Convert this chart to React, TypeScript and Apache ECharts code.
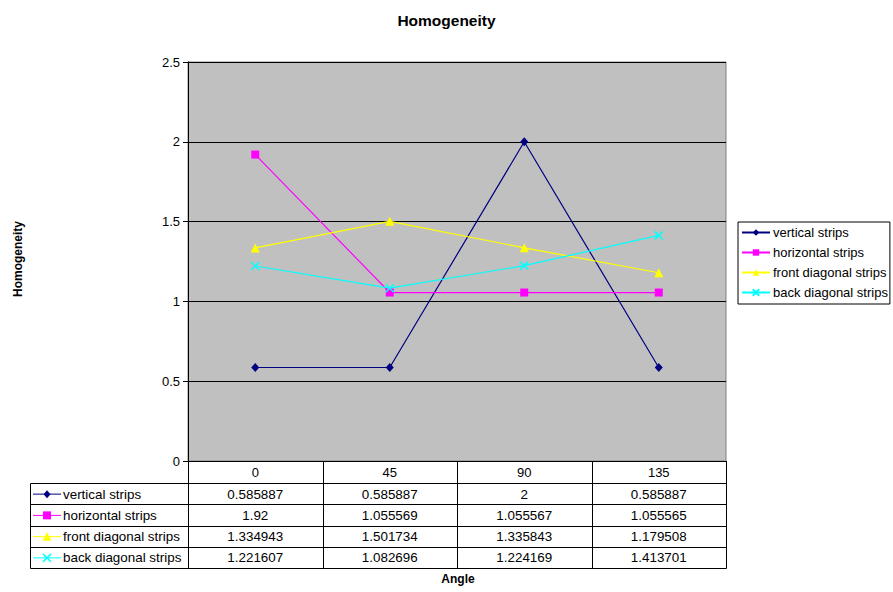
import React, { useEffect, useRef } from "react";
import * as echarts from "echarts";

const categories = ["0", "45", "90", "135"];
const seriesNames = ["vertical strips", "horizontal strips", "front diagonal strips", "back diagonal strips"];
const verticalStrips = [0.585887, 0.585887, 2, 0.585887];
const horizontalStrips = [1.92, 1.055569, 1.055567, 1.055565];
const frontDiagonalStrips = [1.334943, 1.501734, 1.335843, 1.179508];
const backDiagonalStrips = [1.221607, 1.082696, 1.224169, 1.413701];
const seriesColors = ["#000080", "#FF00FF", "#FFFF00", "#00FFFF"];
const seriesSymbols = ["diamond", "rect", "triangle", "path://M0,0L10,10M10,0L0,10"];
const symbolSizes: any[] = [[8, 9], 8, 9, 8];

const FONT = "'Liberation Sans', Arial, sans-serif";

export default function App() {
  const ref = useRef<HTMLDivElement>(null);
  useEffect(() => {
    if (!ref.current) return;
    const chart = echarts.init(ref.current, null, { renderer: "svg" });
    const allData = [verticalStrips, horizontalStrips, frontDiagonalStrips, backDiagonalStrips];

    const gridLeft = 188, gridRight = 726, gridTop = 62, gridBottom = 461;
    const headerBottom = 483;
    const tableLeft = 30, tableBottom = 568;
    const rowH = (tableBottom - headerBottom) / seriesNames.length;
    const colW = (gridRight - gridLeft) / categories.length;

    const graphics: any[] = [];
    const ls = { stroke: "#000", lineWidth: 1 };
    for (let c = 0; c <= categories.length; c++) {
      const x = Math.round(gridLeft + colW * c) + 0.5;
      graphics.push({ type: "line", shape: { x1: x, y1: gridBottom, x2: x, y2: tableBottom }, style: ls, silent: true });
    }
    graphics.push({ type: "rect", shape: { x: tableLeft + 0.5, y: headerBottom + 0.5, width: gridRight - tableLeft, height: tableBottom - headerBottom }, style: { fill: "none", stroke: "#000", lineWidth: 1 }, silent: true });
    for (let r = 1; r < seriesNames.length; r++) {
      const y = Math.round(headerBottom + rowH * r) + 0.5;
      graphics.push({ type: "line", shape: { x1: tableLeft, y1: y, x2: gridRight, y2: y }, style: ls, silent: true });
    }
    seriesNames.forEach((name, r) => {
      const cy = headerBottom + rowH * (r + 0.5) + 0.5;
      const color = seriesColors[r];
      const kx1 = tableLeft + 3, kx2 = tableLeft + 31, kcx = (kx1 + kx2) / 2;
      graphics.push({ type: "line", shape: { x1: kx1, y1: cy, x2: kx2, y2: cy }, style: { stroke: color, lineWidth: 1 }, silent: true });
      if (r === 0) {
        graphics.push({ type: "polygon", shape: { points: [[kcx, cy - 4], [kcx + 3.5, cy], [kcx, cy + 4], [kcx - 3.5, cy]] }, style: { fill: color }, silent: true });
      } else if (r === 1) {
        graphics.push({ type: "rect", shape: { x: kcx - 4, y: cy - 4, width: 8, height: 8 }, style: { fill: color }, silent: true });
      } else if (r === 2) {
        graphics.push({ type: "polygon", shape: { points: [[kcx, cy - 4.5], [kcx + 4.5, cy + 4], [kcx - 4.5, cy + 4]] }, style: { fill: color }, silent: true });
      } else {
        graphics.push({ type: "line", shape: { x1: kcx - 4, y1: cy - 4, x2: kcx + 4, y2: cy + 4 }, style: { stroke: color, lineWidth: 1.5 }, silent: true });
        graphics.push({ type: "line", shape: { x1: kcx + 4, y1: cy - 4, x2: kcx - 4, y2: cy + 4 }, style: { stroke: color, lineWidth: 1.5 }, silent: true });
      }
      graphics.push({ type: "text", x: kx2 + 2, y: cy, style: { text: name, fontFamily: FONT, fontSize: 13.4, fill: "#000", textAlign: "left", textVerticalAlign: "middle" }, silent: true });
      allData[r].forEach((v, c) => {
        graphics.push({ type: "text", x: gridLeft + colW * (c + 0.5), y: cy, style: { text: String(v), fontFamily: FONT, fontSize: 13.4, fill: "#000", textAlign: "center", textVerticalAlign: "middle" }, silent: true });
      });
    });
    graphics.push({ type: "text", x: 18, y: 259, rotation: Math.PI / 2, style: { text: "Homogeneity", fontFamily: FONT, fontSize: 12, fontWeight: "bold", fill: "#000", textAlign: "center", textVerticalAlign: "middle" }, silent: true });
    graphics.push({ type: "text", x: 458, y: 579, style: { text: "Angle", fontFamily: FONT, fontSize: 12, fontWeight: "bold", fill: "#000", textAlign: "center", textVerticalAlign: "middle" }, silent: true });

    chart.setOption({
      animation: false,
      backgroundColor: "#fff",
      title: {
        text: "Homogeneity",
        left: "center",
        top: 7,
        textStyle: { fontFamily: FONT, fontSize: 15.5, fontWeight: "bold", color: "#000" },
      },
      grid: {
        left: gridLeft,
        top: gridTop,
        width: gridRight - gridLeft,
        height: gridBottom - gridTop,
        show: true,
        backgroundColor: "#C0C0C0",
        borderColor: "#808080",
        borderWidth: 1,
      },
      legend: {
        orient: "vertical",
        left: 738,
        top: 222,
        data: seriesNames,
        itemWidth: 28,
        itemHeight: 8,
        itemGap: 7,
        padding: [4, 2, 5, 3],
        borderColor: "#000",
        borderWidth: 1,
        borderRadius: 0,
        textStyle: { fontFamily: FONT, fontSize: 13, color: "#000", padding: [0, 0, 0, -2] },
      },
      xAxis: {
        type: "category",
        data: categories,
        boundaryGap: true,
        axisLine: { show: true, lineStyle: { color: "#000", width: 1 } },
        axisTick: { show: false },
        axisLabel: { fontFamily: FONT, fontSize: 13, color: "#000", margin: 5 },
        splitLine: { show: false },
      },
      yAxis: {
        type: "value",
        min: 0,
        max: 2.5,
        interval: 0.5,
        axisLine: { show: true, lineStyle: { color: "#000", width: 1 } },
        axisTick: { show: true, length: 5, lineStyle: { color: "#000" } },
        axisLabel: { fontFamily: FONT, fontSize: 13, color: "#000", margin: 8 },
        splitLine: { show: true, lineStyle: { color: "#000", width: 1 } },
      },
      graphic: graphics,
      series: seriesNames.map((name, i) => ({
        name,
        type: "line",
        data: allData[i],
        symbol: seriesSymbols[i],
        symbolSize: symbolSizes[i],
        showAllSymbol: true,
        lineStyle: { color: seriesColors[i], width: 1.2 },
        itemStyle: i === 3
          ? { color: seriesColors[i], borderColor: seriesColors[i], borderWidth: 1.5 }
          : { color: seriesColors[i] },
        emphasis: { disabled: true },
      })),
    });
    return () => chart.dispose();
  }, []);
  return <div ref={ref} style={{ position: "absolute", left: 0, top: 0, width: 893, height: 592 }} />;
}
